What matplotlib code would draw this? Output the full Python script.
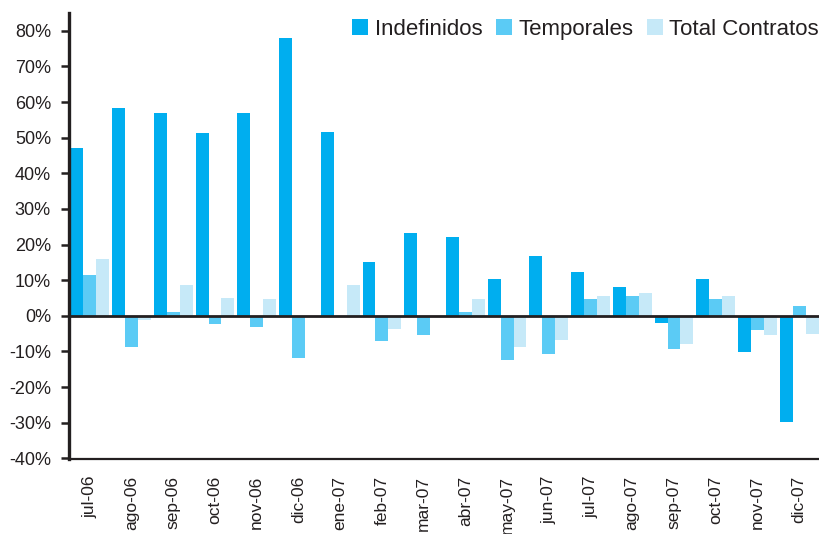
import matplotlib
matplotlib.use("Agg")
import matplotlib.pyplot as plt
import numpy as np
from matplotlib.ticker import FuncFormatter

categories = ["jul-06", "ago-06", "sep-06", "oct-06", "nov-06", "dic-06", "ene-07",
              "feb-07", "mar-07", "abr-07", "may-07", "jun-07", "jul-07", "ago-07",
              "sep-07", "oct-07", "nov-07", "dic-07"]
indefinidos = [47.2, 58.2, 56.8, 51.2, 56.8, 77.9, 51.7, 15.2, 23.3, 22.2, 10.4, 16.9,
               12.4, 8.2, -2.0, 10.4, -10.1, -29.8]
temporales = [11.5, -8.7, 1.1, -2.2, -3.1, -11.8, 0.0, -7.0, -5.3, 1.1, -12.4, -10.7,
              4.8, 5.6, -9.3, 4.8, -3.9, 2.8]
total = [16.0, -1.3, 8.7, 5.1, 4.8, 0.0, 8.7, -3.6, 0.0, 4.8, -8.7, -6.7,
         5.6, 6.5, -7.9, 5.6, -5.3, -5.1]
yticks = [-40, -30, -20, -10, 0, 10, 20, 30, 40, 50, 60, 70, 80]

plt.rcParams['font.family'] = ['Liberation Sans', 'DejaVu Sans']
textc = '#231F20'

fig = plt.figure(figsize=(8.2, 5.34), dpi=100)
ax = fig.add_axes([69/820, 1 - 459/534, 1 - 69/820, (459 - 13)/534])

x = np.arange(len(categories))
w = 0.31
ax.bar(x - w, indefinidos, w, color='#00AEEF', label='Indefinidos')
ax.bar(x, temporales, w, color='#5BCBF5', label='Temporales')
ax.bar(x + w, total, w, color='#C6E9F8', label='Total Contratos')

ax.axhline(0, color='#231F20', lw=2, zorder=3)
ax.set_xlim(-0.5, len(categories) - 0.5)
ax.set_ylim(-40.2, 85)
ax.set_yticks(yticks)
ax.yaxis.set_major_formatter(FuncFormatter(lambda v, p: f"{v:.0f}%"))
ax.set_xticks(x)
ax.set_xticklabels(categories, rotation=90)
ax.tick_params(axis='y', direction='out', length=6, width=1.8, color=textc,
               labelsize=13, labelcolor=textc, pad=7)
ax.tick_params(axis='x', length=0, labelsize=12.5, labelcolor=textc, pad=12)
for s in ['top', 'right']:
    ax.spines[s].set_visible(False)
ax.spines['left'].set_linewidth(2.4)
ax.spines['left'].set_color(textc)
ax.spines['bottom'].set_linewidth(1.6)
ax.spines['bottom'].set_color(textc)

leg = fig.legend(loc='upper right', bbox_to_anchor=(819/820, 1 - 19/534), ncol=3,
                 frameon=False, fontsize=16, handlelength=0.72, handleheight=0.72,
                 handletextpad=0.3, columnspacing=0.6, borderaxespad=0.0,
                 borderpad=0.0)
for t in leg.get_texts():
    t.set_color(textc)

fig.savefig('out.png', dpi=100)
